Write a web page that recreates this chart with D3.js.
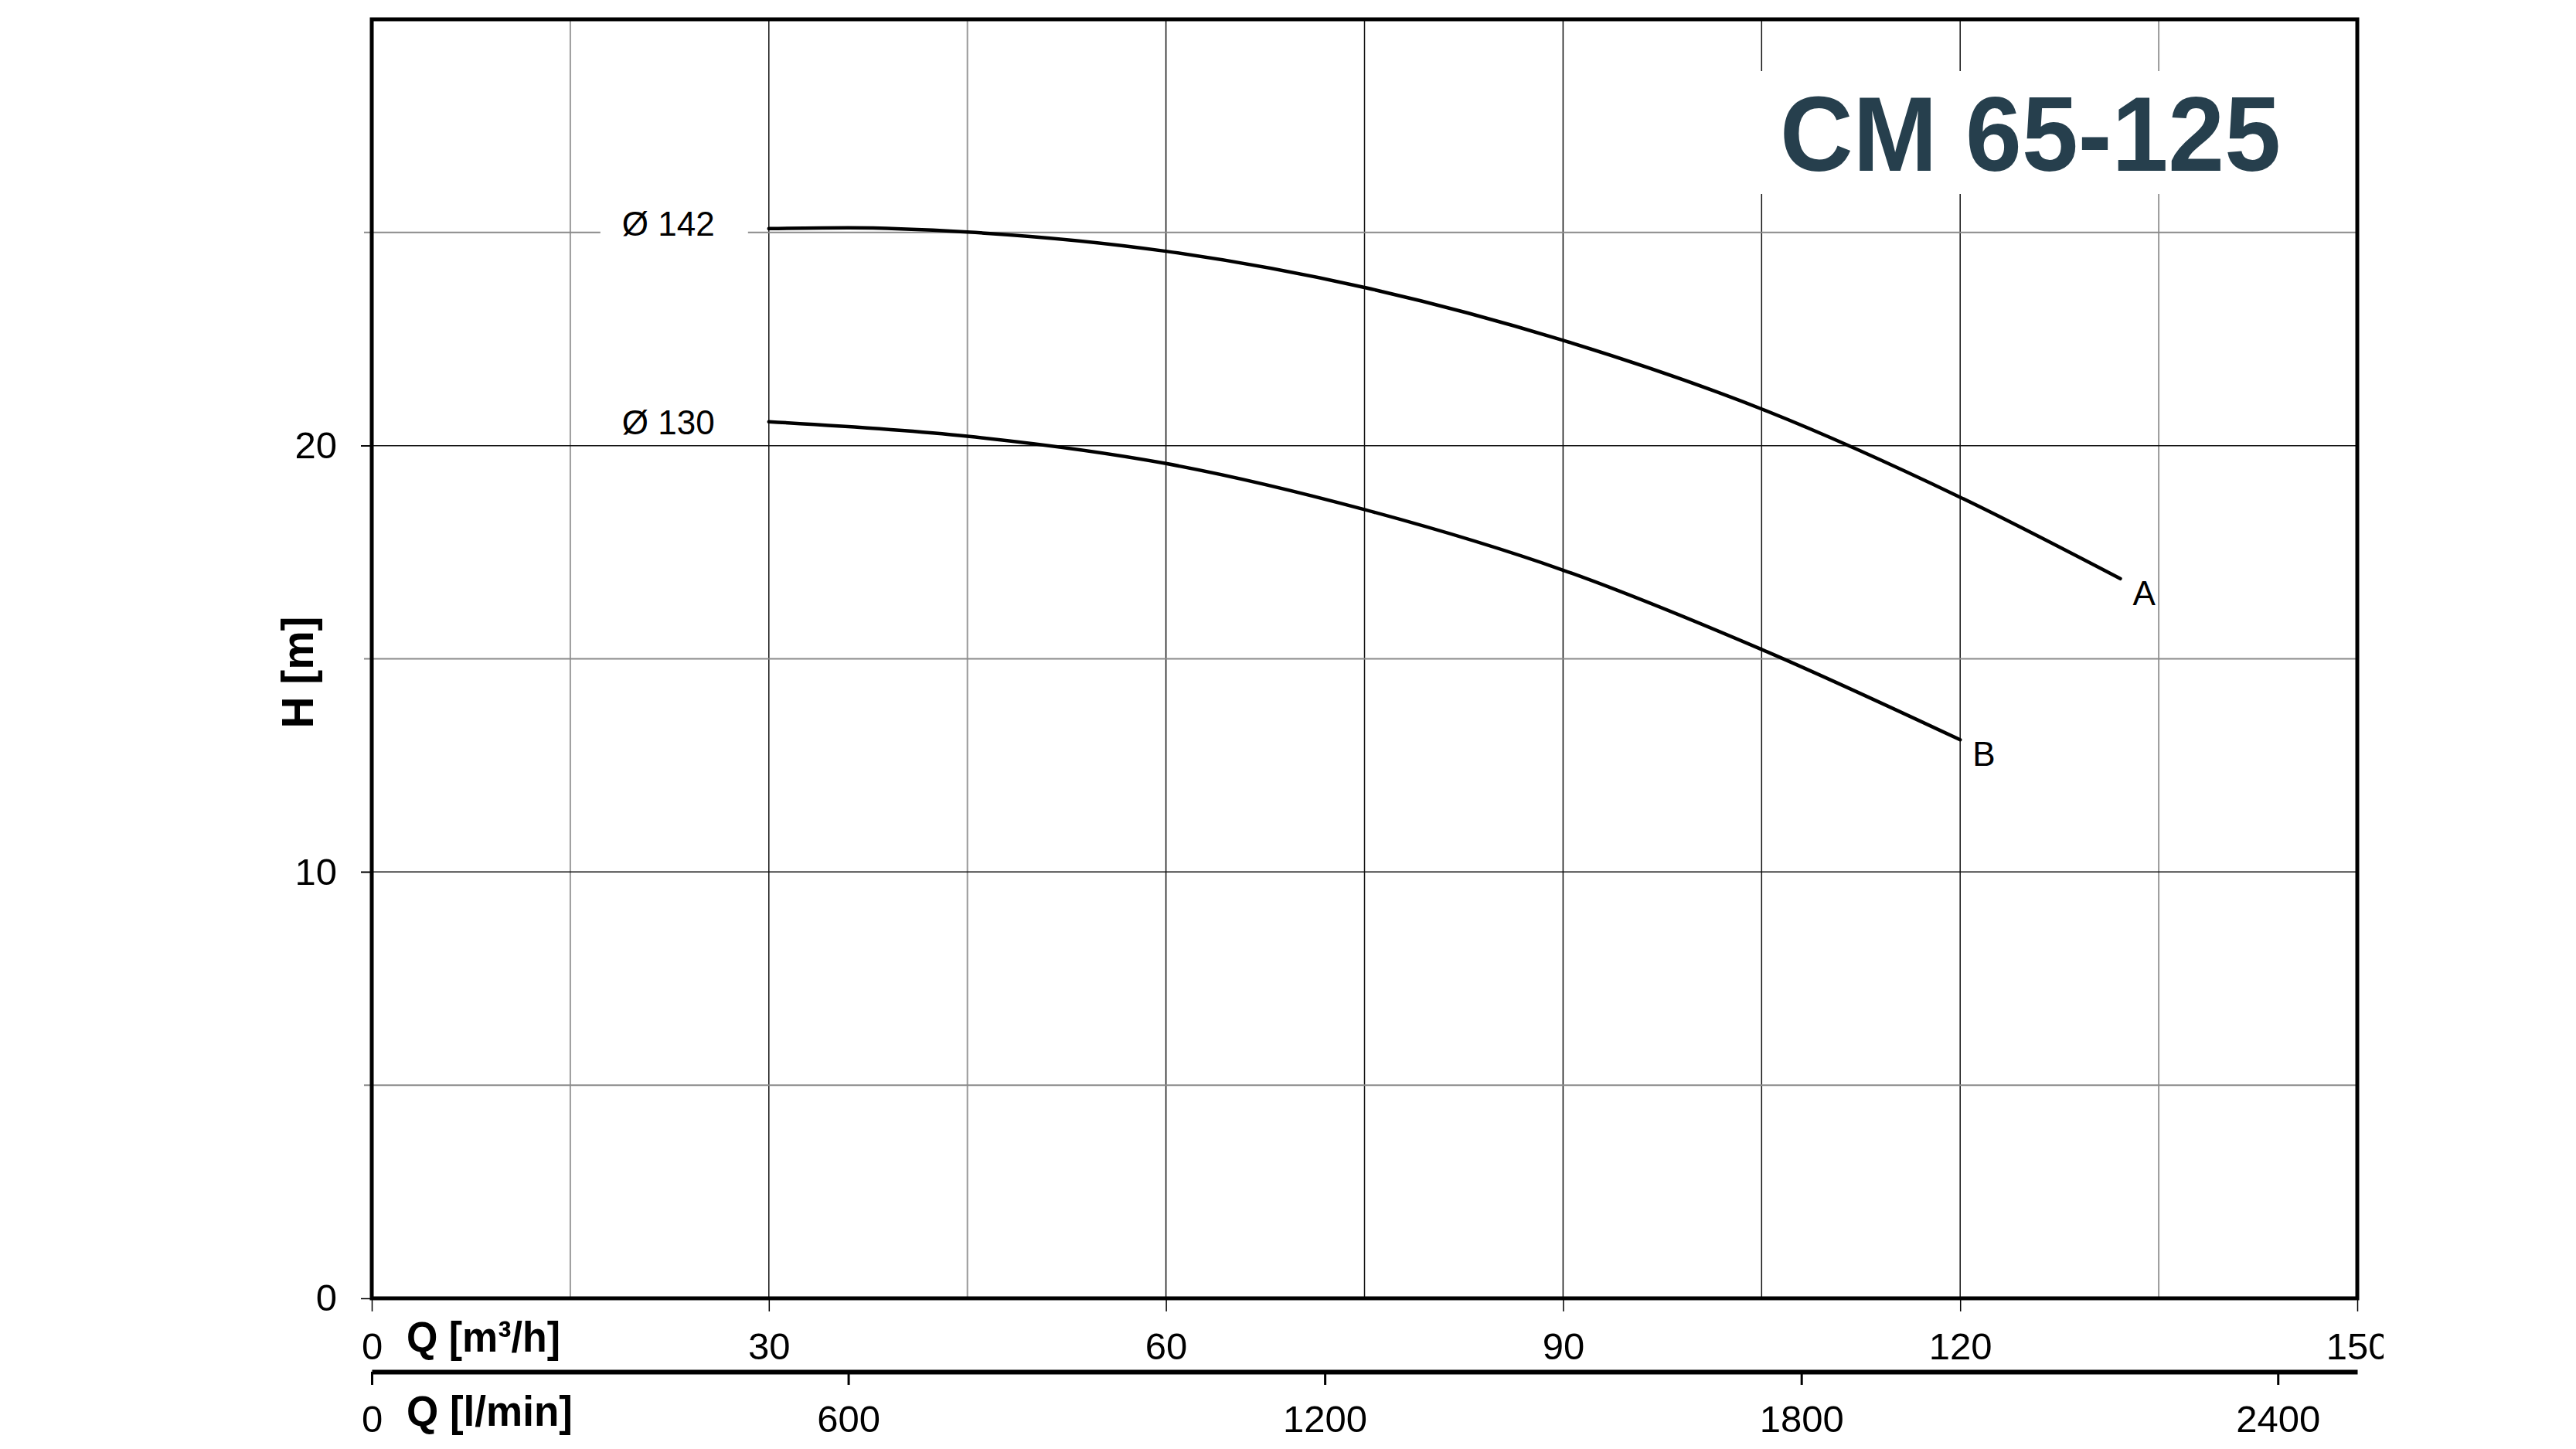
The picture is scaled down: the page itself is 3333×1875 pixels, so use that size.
<!DOCTYPE html>
<html>
<head>
<meta charset="utf-8">
<script src="https://cdn.jsdelivr.net/npm/d3@7/dist/d3.min.js"></script>
<style>
  body { margin: 0; background: #fff; }
  svg text { font-family: "Liberation Sans", Arial, sans-serif; }
</style>
</head>
<body>
<div id="chart"></div>
<script>
// pump curves, Q in m3/h, H in m
const curveNames = ["A", "B"];
const curveDiameters = ["Ø 142", "Ø 130"];
const flowA = [30, 36, 45, 60, 75, 90, 105, 120, 132.1];
const headA = [25.09, 25.11, 25.01, 24.56, 23.71, 22.47, 20.86, 18.79, 16.88];
const flowB = [30, 45, 60, 75, 90, 105, 120];
const headB = [20.56, 20.22, 19.58, 18.50, 17.08, 15.22, 13.10];

const flowTicks = [0, 30, 60, 90, 120, 150];
const flowGrid = [15, 30, 45, 60, 75, 90, 105, 120, 135];
const flowGridLight = [15, 45, 135];
const litreTicks = [0, 600, 1200, 1800, 2400];
const headTicks = [0, 10, 20];
const headGrid = [5, 10, 15, 20, 25];
const headGridLight = [5, 15, 25];
const title = "CM 65-125";

const W = 3333, H = 1875;
const plot = { left: 481, right: 3050, top: 25, bottom: 1680 };
const litreAxisY = 1775;

const x = d3.scaleLinear().domain([0, 150]).range([plot.left, plot.right]);
const xl = d3.scaleLinear().domain([0, 2500]).range([plot.left, plot.right]);
const y = d3.scaleLinear().domain([0, 30]).range([plot.bottom, plot.top]);

const svg = d3.select("#chart").append("svg").attr("width", W).attr("height", H);

// grid
const grid = svg.append("g");
grid.selectAll(".vgrid").data(flowGrid).join("line")
    .attr("x1", d => x(d)).attr("x2", d => x(d))
    .attr("y1", plot.top).attr("y2", plot.bottom)
    .attr("stroke", d => flowGridLight.includes(d) ? "#9a9a9a" : "#111")
    .attr("stroke-width", d => flowGridLight.includes(d) ? 2 : 1.5);
grid.selectAll(".hgrid").data(headGrid).join("line")
    .attr("x1", d => headGridLight.includes(d) ? plot.left - 10 : plot.left - 14).attr("x2", plot.right)
    .attr("y1", d => y(d)).attr("y2", d => y(d))
    .attr("stroke", d => headGridLight.includes(d) ? "#8a8a8a" : "#111")
    .attr("stroke-width", d => headGridLight.includes(d) ? 2 : 1.5);

// white box behind the title
svg.append("rect")
    .attr("x", 2270).attr("y", 92).attr("width", 715).attr("height", 159)
    .attr("fill", "#fff");
svg.append("text")
    .attr("x", 2627).attr("y", 221)
    .attr("text-anchor", "middle")
    .attr("font-size", 138).attr("font-weight", "bold")
    .attr("fill", "#263f4d")
    .attr("textLength", 648).attr("lengthAdjust", "spacingAndGlyphs")
    .text(title);

const curves = [
    { name: curveNames[0], dia: curveDiameters[0], diaDy: 9, values: flowA.map((q, i) => ({ q, h: headA[i] })) },
    { name: curveNames[1], dia: curveDiameters[1], diaDy: 16, values: flowB.map((q, i) => ({ q, h: headB[i] })) }
];

const diaLabels = svg.append("g");
curves.forEach(c => {
    const first = c.values[0];
    const by = y(first.h) + c.diaDy;
    diaLabels.append("rect")
        .attr("x", x(first.q) - 218).attr("y", by - 47).attr("width", 191).attr("height", 52)
        .attr("fill", "#fff");
    diaLabels.append("text")
        .attr("x", x(first.q) - 190).attr("y", by)
        .attr("font-size", 44)
        .text(c.dia);
});

// curves
const line = d3.line().x(d => x(d.q)).y(d => y(d.h)).curve(d3.curveMonotoneX);
svg.append("g").selectAll("path").data(curves).join("path")
    .attr("d", d => line(d.values))
    .attr("fill", "none").attr("stroke", "#000")
    .attr("stroke-width", 4.5).attr("stroke-linecap", "round");

svg.append("g").selectAll("text").data(curves).join("text")
    .attr("x", d => x(d.values[d.values.length - 1].q) + 16)
    .attr("y", d => y(d.values[d.values.length - 1].h) + 34)
    .attr("font-size", 44)
    .text(d => d.name);

// frame
svg.append("rect")
    .attr("x", plot.left).attr("y", plot.top)
    .attr("width", plot.right - plot.left).attr("height", plot.bottom - plot.top)
    .attr("fill", "none").attr("stroke", "#000").attr("stroke-width", 5);

// y axis
const yAxis = svg.append("g").attr("transform", `translate(${plot.left},0)`)
    .call(d3.axisLeft(y).tickValues(headTicks).tickSize(14).tickPadding(31).tickSizeOuter(0));
yAxis.select(".domain").remove();
yAxis.selectAll(".tick line").attr("stroke", "#000").attr("stroke-width", 1.5);
yAxis.selectAll(".tick text").attr("font-size", 49).attr("font-family", "Liberation Sans, Arial, sans-serif").attr("fill", "#000");

// x axis m3/h
svg.append("defs").append("clipPath").attr("id", "clip-q")
    .append("rect").attr("x", 0).attr("y", 0).attr("width", 3084).attr("height", H);
const xAxis = svg.append("g").attr("transform", `translate(0,${plot.bottom})`)
    .attr("clip-path", "url(#clip-q)")
    .call(d3.axisBottom(x).tickValues(flowTicks).tickSize(17).tickPadding(27).tickSizeOuter(0));
xAxis.select(".domain").remove();
xAxis.selectAll(".tick line").attr("stroke", "#000").attr("stroke-width", 1.5);
xAxis.selectAll(".tick text").attr("font-size", 49).attr("font-family", "Liberation Sans, Arial, sans-serif").attr("fill", "#000");

// x axis l/min
const lAxis = svg.append("g").attr("transform", `translate(0,${litreAxisY})`)
    .call(d3.axisBottom(xl).tickValues(litreTicks).tickFormat(d3.format("d"))
        .tickSize(17).tickPadding(26).tickSizeOuter(0));
lAxis.select(".domain").attr("stroke", "#000").attr("stroke-width", 6);
lAxis.selectAll(".tick line").attr("stroke", "#000").attr("stroke-width", 3);
lAxis.selectAll(".tick text").attr("font-size", 49).attr("font-family", "Liberation Sans, Arial, sans-serif").attr("fill", "#000");

// axis titles
svg.append("text")
    .attr("x", 526).attr("y", 1749)
    .attr("font-size", 56).attr("font-weight", "bold")
    .attr("textLength", 199).attr("lengthAdjust", "spacingAndGlyphs")
    .text("Q [m³/h]");
svg.append("text")
    .attr("x", 526).attr("y", 1845)
    .attr("font-size", 56).attr("font-weight", "bold")
    .attr("textLength", 215).attr("lengthAdjust", "spacingAndGlyphs")
    .text("Q [l/min]");
svg.append("text")
    .attr("transform", "translate(405,870) rotate(-90)")
    .attr("text-anchor", "middle")
    .attr("font-size", 58).attr("font-weight", "bold")
    .attr("textLength", 145).attr("lengthAdjust", "spacingAndGlyphs")
    .text("H [m]");
</script>
</body>
</html>
